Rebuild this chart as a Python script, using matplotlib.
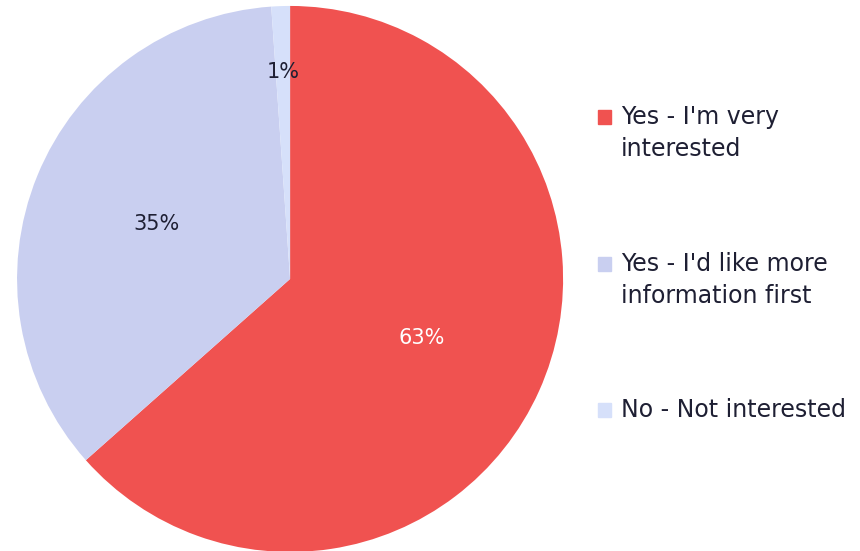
import matplotlib.pyplot as plt
from matplotlib.patches import Rectangle

# --- data ---
labels = ["Yes - I'm very\ninterested", "Yes - I'd like more\ninformation first", "No - Not interested"]
shares = [63.45, 35.45, 1.1]
colors = ["#F05250", "#C9CFF0", "#D6E0FA"]
pct_colors = ["white", "#1E1F33", "#1E1F33"]

TEXT = "#1E1F33"
plt.rcParams['font.family'] = ['DejaVu Sans']

fig = plt.figure(figsize=(8.6, 5.51), dpi=100)
ax = fig.add_axes([0.0198, -0.0018, 0.635, 0.991])

wedges, texts, autotexts = ax.pie(
    shares, colors=colors, startangle=90, counterclock=False,
    autopct='%1.0f%%', pctdistance=0.53, radius=1,
    wedgeprops=dict(linewidth=0), textprops=dict(fontsize=15))
for t, c in zip(autotexts, pct_colors):
    t.set_color(c)

# small slice label sits further out
x, y = autotexts[2].get_position()
autotexts[2].set_position((x / 0.53 * 0.76, y / 0.53 * 0.76))

ax.set_xlim(-1, 1)
ax.set_ylim(-1, 1)
ax.set_aspect('equal')
ax.axis('off')

# --- legend drawn by hand ---
ys = [117, 264, 410]
for lab, col, yp in zip(labels, colors, ys):
    yf = 1 - yp / 551
    fig.patches.append(Rectangle((598 / 860, yf - 7 / 551), 13 / 860, 14 / 551,
                                 transform=fig.transFigure, color=col))
    fig.text(621 / 860, yf + 12 / 551, lab, fontsize=17, color=TEXT,
             va='top', ha='left', linespacing=1.4)

fig.savefig("out.png", dpi=100)
